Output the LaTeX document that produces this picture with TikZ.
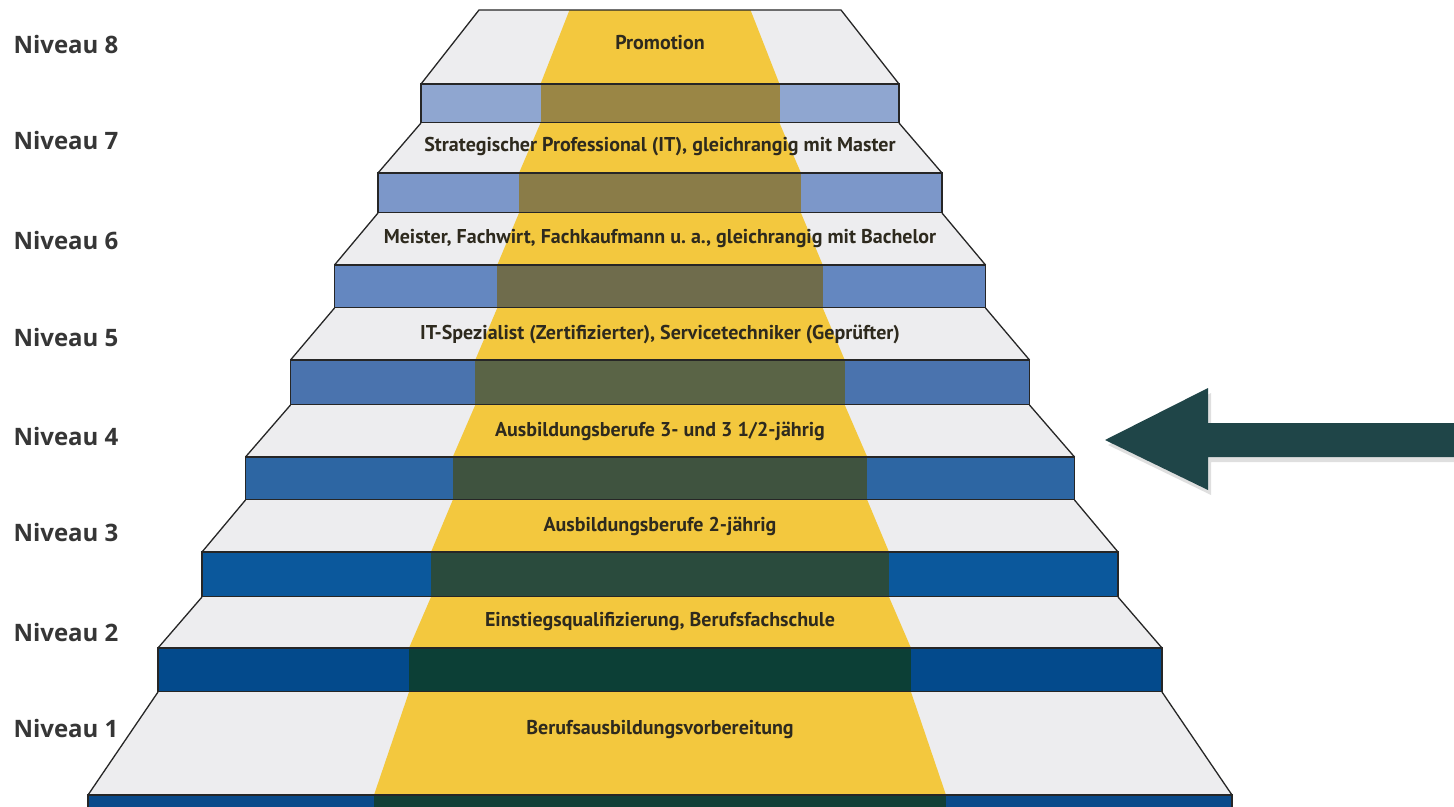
\documentclass[tikz,border=0pt]{standalone}
\usepackage{fontspec}
\setmainfont{PT Sans}
\newfontfamily\labelfont{Open Sans}
\usetikzlibrary{shadows}
\definecolor{treadgray}{HTML}{EDEDEF}
\definecolor{stairyellow}{HTML}{F3C83E}
\definecolor{textdark}{HTML}{2E2A1E}
\definecolor{labelgray}{HTML}{363636}
\definecolor{arrowteal}{HTML}{1F4548}
\definecolor{riser8}{HTML}{8FA6D0}
\definecolor{riser7}{HTML}{7C97C9}
\definecolor{riser6}{HTML}{6487C0}
\definecolor{riser5}{HTML}{4A73AE}
\definecolor{riser4}{HTML}{2D66A3}
\definecolor{riser3}{HTML}{0B589C}
\definecolor{riser2}{HTML}{034A8C}
\definecolor{riser1}{HTML}{0A4A8A}
\definecolor{core8}{HTML}{9A8645}
\definecolor{core7}{HTML}{8A7C48}
\definecolor{core6}{HTML}{6F6C4C}
\definecolor{core5}{HTML}{5A6446}
\definecolor{core4}{HTML}{3F533F}
\definecolor{core3}{HTML}{2A4B3D}
\definecolor{core2}{HTML}{0C3F36}
\definecolor{core1}{HTML}{113F37}

\begin{document}
\begin{tikzpicture}[x=1pt,y=-1pt,
  edge/.style={draw=black!85,line width=1.3pt},
  tread/.style={fill=treadgray},
  band/.style={fill=stairyellow},
  steptext/.style={font=\bfseries\fontsize{20}{24}\selectfont,text=textdark},
  level/.style={font=\labelfont\bfseries\fontsize{24}{28}\selectfont,text=labelgray,anchor=west}]
\fill[white] (0,0) rectangle (1454,806);
\useasboundingbox (0,0) rectangle (1454,806);
\clip (0,0) rectangle (1454,806);

% Niveau 8
\fill[tread] (479,10) -- (841,10) -- (899,84) -- (421,84) -- cycle;
\fill[band] (569.5,10) -- (750.5,10) -- (779.5,84) -- (540.5,84) -- cycle;
\fill[riser8] (421,84) rectangle (899,123);
\fill[core8] (540.5,84) rectangle (779.5,123);
\draw[edge] (421,84) -- (479,10) -- (841,10) -- (899,84);
\draw[edge] (421,84) rectangle (899,123);

% Niveau 7
\fill[tread] (421,123) -- (899,123) -- (942,173) -- (378,173) -- cycle;
\fill[band] (540.5,123) -- (779.5,123) -- (801,173) -- (519,173) -- cycle;
\fill[riser7] (378,173) rectangle (942,213);
\fill[core7] (519,173) rectangle (801,213);
\draw[edge] (421,123) -- (378,173) (899,123) -- (942,173);
\draw[edge] (378,173) rectangle (942,213);

% Niveau 6
\fill[tread] (378,213) -- (942,213) -- (985.5,265) -- (334.5,265) -- cycle;
\fill[band] (519,213) -- (801,213) -- (822.75,265) -- (497.25,265) -- cycle;
\fill[riser6] (334.5,265) rectangle (985.5,308);
\fill[core6] (497.25,265) rectangle (822.75,308);
\draw[edge] (378,213) -- (334.5,265) (942,213) -- (985.5,265);
\draw[edge] (334.5,265) rectangle (985.5,308);

% Niveau 5
\fill[tread] (334.5,308) -- (985.5,308) -- (1029.5,360) -- (290.5,360) -- cycle;
\fill[band] (497.25,308) -- (822.75,308) -- (844.75,360) -- (475.25,360) -- cycle;
\fill[riser5] (290.5,360) rectangle (1029.5,405);
\fill[core5] (475.25,360) rectangle (844.75,405);
\draw[edge] (334.5,308) -- (290.5,360) (985.5,308) -- (1029.5,360);
\draw[edge] (290.5,360) rectangle (1029.5,405);

% Niveau 4
\fill[tread] (290.5,405) -- (1029.5,405) -- (1074.5,457) -- (245.5,457) -- cycle;
\fill[band] (475.25,405) -- (844.75,405) -- (867.25,457) -- (452.75,457) -- cycle;
\fill[riser4] (245.5,457) rectangle (1074.5,500);
\fill[core4] (452.75,457) rectangle (867.25,500);
\draw[edge] (290.5,405) -- (245.5,457) (1029.5,405) -- (1074.5,457);
\draw[edge] (245.5,457) rectangle (1074.5,500);

% Niveau 3
\fill[tread] (245.5,500) -- (1074.5,500) -- (1118,552) -- (202,552) -- cycle;
\fill[band] (452.75,500) -- (867.25,500) -- (889,552) -- (431,552) -- cycle;
\fill[riser3] (202,552) rectangle (1118,597);
\fill[core3] (431,552) rectangle (889,597);
\draw[edge] (245.5,500) -- (202,552) (1074.5,500) -- (1118,552);
\draw[edge] (202,552) rectangle (1118,597);

% Niveau 2
\fill[tread] (202,597) -- (1118,597) -- (1162,648) -- (158,648) -- cycle;
\fill[band] (431,597) -- (889,597) -- (911,648) -- (409,648) -- cycle;
\fill[riser2] (158,648) rectangle (1162,692);
\fill[core2] (409,648) rectangle (911,692);
\draw[edge] (202,597) -- (158,648) (1118,597) -- (1162,648);
\draw[edge] (158,648) rectangle (1162,692);

% Niveau 1
\fill[tread] (158,692) -- (1162,692) -- (1232,795) -- (88,795) -- cycle;
\fill[band] (409,692) -- (911,692) -- (946,795) -- (374,795) -- cycle;
\fill[riser1] (88,795) rectangle (1232,830);
\fill[core1] (374,795) rectangle (946,830);
\draw[edge] (158,692) -- (88,795) (1162,692) -- (1232,795);
\draw[edge] (88,795) rectangle (1232,830);

% texts on the steps
\node[steptext] (st8) at (660,43) {Promotion};
\node[steptext] (st7) at (660,147) {Strategischer Professional (IT), gleichrangig mit Master};
\node[steptext] (st6) at (660,239) {Meister, Fachwirt, Fachkaufmann u.\ a., gleichrangig mit Bachelor};
\node[steptext] (st5) at (660,334) {IT-Spezialist (Zertifizierter), Servicetechniker (Geprüfter)};
\node[steptext] (st4) at (660,431) {Ausbildungsberufe 3- und 3 1/2-jährig};
\node[steptext] (st3) at (660,526) {Ausbildungsberufe 2-jährig};
\node[steptext] (st2) at (660,622) {Einstiegsqualifizierung, Berufsfachschule};
\node[steptext] (st1) at (660,730) {Berufsausbildungsvorbereitung};

% levels
\node[level] (lvl8) at (10,44) {Niveau 8};
\node[level] (lvl7) at (10,140) {Niveau 7};
\node[level] (lvl6) at (10,240) {Niveau 6};
\node[level] (lvl5) at (10,337) {Niveau 5};
\node[level] (lvl4) at (10,436) {Niveau 4};
\node[level] (lvl3) at (10,532) {Niveau 3};
\node[level] (lvl2) at (10,632) {Niveau 2};
\node[level] (lvl1) at (10,728) {Niveau 1};

% arrow
\fill[arrowteal,drop shadow={shadow xshift=3pt,shadow yshift=-5pt,opacity=0.25}]
  (1105,440) -- (1208,388) -- (1208,423) -- (1460,423) -- (1460,457)
  -- (1208,457) -- (1208,490) -- cycle;
\end{tikzpicture}
\end{document}
